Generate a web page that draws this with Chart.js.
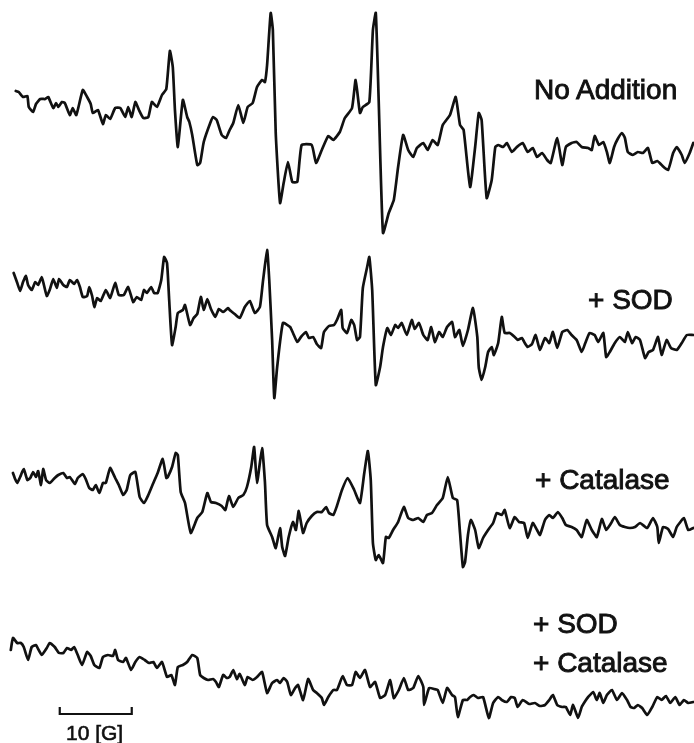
<!DOCTYPE html>
<html>
<head>
<meta charset="utf-8">
<script src="https://cdn.jsdelivr.net/npm/chart.js@4/dist/chart.umd.min.js"></script>
<style>
  body { margin: 0; background: #fff; }
  #wrap { position: relative; width: 694px; height: 743px; }
  #epr { position: absolute; left: 0; top: 0; }
  .lbl {
    position: absolute;
    font-family: "Liberation Sans", Arial, sans-serif;
    font-size: 28px;
    line-height: 28px;
    color: #111;
    white-space: nowrap;
    -webkit-text-stroke: 0.9px #111;
  }
  .scale { font-size: 21px; line-height: 21px; -webkit-text-stroke: 0.6px #111; }
</style>
</head>
<body>
<div id="wrap">
  <canvas id="epr" width="694" height="743"></canvas>
</div>
<script>
// trace names, top to bottom
var traceNames = ["No Addition", "+ SOD", "+ Catalase", "+ SOD\n+ Catalase"];

// magnetic field (G) and signal (a.u.)
var noAddField = [2.2,2.6,3.2,3.8,4.0,4.6,5.0,5.6,6.3,6.7,7.4,7.8,8.1,8.6,9.0,9.7,10.1,10.6,11.5,12.1,12.6,12.9,13.6,14.3,14.7,15.3,16.0,16.7,17.4,17.8,18.3,18.8,19.3,19.9,20.6,21.1,21.8,22.5,23.1,23.6,24.0,24.3,24.7,25.4,26.0,26.3,26.7,27.4,27.8,28.3,29.2,29.6,30.1,30.8,31.4,31.9,32.4,33.1,33.8,34.4,35.1,35.7,36.4,36.8,37.1,37.6,37.9,38.3,38.9,39.4,40.0,40.6,41.3,41.9,43.3,43.9,44.7,45.6,46.3,47.2,47.9,48.9,49.4,50.0,50.4,51.3,51.8,52.2,52.6,53.2,54.0,54.7,55.3,56.0,56.7,57.4,57.9,58.8,59.4,60.1,60.8,61.5,62.5,63.3,63.9,64.4,65.3,66.0,66.5,66.9,67.6,68.3,68.8,69.2,69.9,70.4,71.1,71.8,72.6,73.3,74.0,74.6,75.3,76.0,76.5,77.4,78.1,78.6,79.4,80.1,80.8,81.7,82.2,82.6,83.2,83.8,84.3,84.7,85.3,85.8,86.4,86.8,87.2,87.9,88.6,89.3,90.0,90.6,91.3,91.9,92.8,93.5,94.0,94.7,95.1,95.8,96.3];
var noAddSignal = [19,18,13,14,3,-2,6,11,11,13,2,7,3,8,7,-5,2,-5,20,13,6,-3,0,-14,-5,-9,2,2,-7,3,-7,8,0,-8,-7,8,3,15,21,59,43,0,-37,10,-7,-12,-25,-55,-53,-32,-13,-7,-10,-25,-28,-20,-13,5,-13,3,7,23,30,28,45,97,80,-23,-93,-73,-52,-72,-72,-35,-35,-53,-40,-26,-30,-22,-8,2,30,-3,3,8,80,97,10,-123,-103,-90,-57,-25,-40,-47,-38,-33,-40,-30,-35,-15,-5,13,-15,-20,-77,-37,-3,-10,-88,-70,-37,-35,-37,-33,-42,-37,-33,-42,-38,-47,-43,-50,-53,-28,-55,-37,-33,-32,-37,-38,-40,-26,-35,-32,-42,-53,-37,-29,-23,-28,-42,-45,-42,-43,-38,-53,-51,-55,-60,-43,-37,-45,-53,-43,-33];

var sodField = [1.9,2.4,2.8,3.2,3.6,3.9,4.4,4.9,5.3,5.8,6.1,6.5,6.9,7.4,7.9,8.2,8.8,9.3,9.7,10.3,10.7,11.1,11.5,12.1,12.4,12.8,13.1,13.5,14.0,14.7,15.3,16.0,16.5,17.2,17.8,18.5,19.0,19.6,20.0,20.4,21.0,21.4,21.9,22.4,22.8,23.2,23.5,23.9,24.4,24.7,25.4,25.7,26.4,26.9,27.4,27.9,28.3,28.8,29.3,29.9,30.4,31.0,31.7,31.9,32.6,33.3,34.0,34.7,35.4,36.1,36.5,37.1,37.4,37.8,38.1,38.5,39.3,40.3,40.7,41.3,41.8,42.5,42.9,43.5,44.0,44.6,45.0,45.7,46.4,46.8,47.4,47.6,48.2,48.8,49.2,49.6,50.0,50.4,51.0,51.3,51.7,52.2,52.8,53.2,53.8,54.3,54.9,55.3,55.8,56.5,57.2,57.6,58.2,58.8,59.4,59.9,60.4,61.0,61.5,62.1,62.8,63.2,63.8,64.3,65.0,65.7,66.3,66.5,66.9,67.4,67.8,68.3,68.6,69.2,69.7,70.1,70.8,71.5,71.9,72.5,72.9,73.3,73.9,74.4,75.0,75.7,76.3,76.8,77.4,78.1,78.8,79.4,80.1,80.8,81.3,81.9,82.6,83.1,83.8,84.2,84.7,85.4,86.1,86.8,87.2,87.8,88.3,88.9,89.6,90.1,90.7,91.4,91.9,92.6,93.2,94.0,94.7,95.4,96.3];
var sodSignal = [17,7,-1,8,14,5,0,8,5,13,5,-6,0,11,2,11,5,3,10,6,10,3,-7,-6,3,-6,-17,-8,-11,0,-8,7,-5,-5,3,-12,-7,-10,0,-3,3,-3,-3,10,33,27,-10,-55,-37,-23,-20,-15,-35,-28,-24,-7,-20,-9,-19,-27,-19,-22,-18,-20,-24,-28,-17,-11,-23,-17,7,40,10,-50,-108,-77,-33,-37,-43,-52,-47,-42,-48,-47,-54,-58,-42,-36,-35,-30,-20,-38,-43,-30,-35,-50,-47,2,23,33,0,-95,-77,-57,-38,-45,-35,-38,-33,-45,-30,-39,-33,-45,-50,-37,-52,-42,-47,-37,-32,-47,-40,-56,-40,-18,-47,-77,-90,-77,-62,-57,-65,-53,-27,-43,-43,-47,-50,-48,-53,-57,-54,-45,-60,-48,-53,-42,-58,-42,-40,-45,-50,-62,-53,-43,-45,-52,-43,-67,-62,-53,-47,-52,-42,-53,-47,-50,-68,-62,-60,-47,-65,-50,-58,-60,-53,-45,-45];

var catField = [1.8,2.1,2.4,2.8,3.3,3.8,4.2,4.6,5.0,5.3,5.7,6.0,6.4,6.9,7.6,8.1,8.8,9.3,9.7,10.4,10.8,11.5,11.9,12.4,12.9,13.3,13.8,14.3,14.7,15.3,16.0,16.5,17.1,17.6,18.1,18.8,19.4,20.0,20.6,21.3,21.9,22.6,23.1,23.3,23.9,24.4,24.7,25.1,25.7,26.5,27.4,28.1,28.8,29.3,30.0,30.8,31.3,31.8,32.4,33.1,33.8,34.3,34.9,35.3,35.7,36.4,36.8,37.1,37.8,38.3,38.9,39.2,39.6,40.1,40.7,41.1,41.5,42.1,42.6,43.3,44.0,44.7,45.3,45.7,46.3,46.8,47.5,48.3,49.2,50.0,50.6,51.1,51.5,51.8,52.2,52.6,53.2,53.6,54.0,54.6,55.3,56.1,56.7,57.4,58.1,58.8,59.3,60.0,60.7,61.5,62.2,62.9,63.5,63.9,64.3,64.6,65.0,65.4,66.0,66.5,67.1,67.8,68.5,69.0,69.7,70.1,70.8,71.5,72.1,72.8,73.3,74.0,74.6,75.0,75.7,76.3,76.8,77.5,78.1,78.6,79.4,80.1,80.8,81.5,82.2,82.9,83.6,84.2,84.9,85.4,86.1,86.8,87.5,88.2,88.9,89.9,90.7,91.3,91.5,92.1,92.8,93.5,94.0,94.4,95.0,95.6,96.3];
var catSignal = [7,1,-3,3,11,0,2,8,3,9,-5,11,0,-3,2,5,7,2,3,-4,2,6,1,-8,-10,-5,-13,-3,-3,12,2,-5,-15,-10,5,8,-17,-23,-15,-3,7,21,2,3,13,27,25,-12,-23,-53,-38,-32,-13,-22,-23,-26,-30,-16,-27,-18,-15,-7,13,33,-3,32,-2,-45,-57,-68,-48,-67,-76,-57,-42,-50,-31,-53,-43,-36,-32,-32,-27,-33,-35,-26,-10,2,-10,-23,7,29,0,-63,-80,-75,-83,-57,-58,-50,-42,-27,-38,-40,-38,-42,-35,-33,-25,-18,3,-18,-20,-53,-87,-82,-55,-40,-50,-68,-58,-50,-43,-33,-35,-30,-48,-37,-42,-43,-58,-43,-50,-55,-40,-35,-38,-32,-38,-45,-47,-50,-57,-40,-50,-57,-39,-50,-43,-37,-45,-47,-48,-47,-43,-48,-38,-47,-63,-47,-49,-57,-47,-43,-38,-50,-48];

var bothField = [1.5,1.8,2.4,2.9,3.3,3.9,4.4,5.0,5.3,5.8,6.5,6.9,7.6,8.2,8.8,9.3,9.9,10.3,10.8,11.4,12.1,12.6,13.1,13.8,14.3,15.0,15.7,16.0,16.4,17.1,17.5,18.2,18.8,19.4,20.1,20.7,21.3,21.8,22.5,23.2,23.8,24.3,24.7,25.4,26.0,26.7,27.4,27.8,28.3,28.9,29.6,30.0,30.4,31.0,31.5,31.9,32.4,32.9,33.3,34.0,34.4,35.1,35.7,36.4,37.1,37.8,38.5,38.9,39.4,39.9,40.4,41.0,41.4,42.1,42.8,43.5,44.0,44.7,45.0,45.6,46.3,46.8,47.2,47.6,48.2,48.9,49.4,50.0,50.7,51.4,52.1,52.8,53.5,54.2,54.7,55.4,56.1,56.7,57.4,58.1,58.8,58.9,59.6,60.3,60.8,61.5,62.1,62.8,63.2,63.6,64.3,64.9,65.3,65.8,66.4,67.1,67.9,68.5,69.2,69.7,70.4,71.0,71.5,71.9,72.6,73.5,74.3,75.0,75.7,76.3,76.8,77.4,78.1,78.6,79.2,79.6,80.3,80.8,81.3,81.7,82.4,82.9,83.3,83.8,84.3,85.0,85.7,86.4,87.1,87.6,88.1,88.6,89.2,89.9,90.6,91.3,91.9,92.5,93.1,93.8,94.4,95.0,95.6,96.3];
var bothSignal = [10,22,17,17,13,0,13,15,11,5,12,17,13,7,7,12,10,13,5,-5,8,4,-5,-8,3,5,4,10,0,-2,2,-10,-2,3,0,-3,-2,-8,-2,-17,-15,-25,-7,-5,-2,5,2,-15,-18,-20,-19,-22,-27,-15,-18,-17,-10,-19,-14,-25,-17,-20,-17,-12,-33,-23,-20,-23,-18,-22,-35,-28,-25,-40,-19,-30,-33,-38,-45,-37,-30,-30,-23,-16,-25,-25,-12,-18,-10,-27,-22,-38,-35,-20,-38,-30,-18,-30,-28,-16,-27,-45,-28,-29,-30,-43,-28,-35,-37,-57,-40,-40,-37,-35,-38,-37,-58,-43,-37,-40,-42,-37,-38,-47,-40,-44,-43,-46,-45,-40,-35,-45,-47,-47,-55,-45,-58,-47,-41,-37,-32,-40,-33,-43,-35,-30,-40,-33,-40,-47,-48,-45,-48,-55,-47,-37,-40,-36,-43,-37,-45,-40,-43,-42];

var scaleBarStart = 8.3; // G
var scaleBarLength = 10; // G

function pts(field, signal) {
  return field.map(function (f, i) { return {x: f, y: signal[i]}; });
}

function trace(field, signal, axis) {
  return {
    data: pts(field, signal),
    yAxisID: axis,
    borderColor: '#111',
    borderWidth: 2.7,
    borderJoinStyle: 'round',
    borderCapStyle: 'round',
    pointRadius: 0,
    tension: 0.15,
    fill: false
  };
}

function yAxis(min, max, weight) {
  return {type: 'linear', position: 'right', stack: 'epr', stackWeight: weight,
          min: min, max: max, display: false};
}

// scale bar bracket, measured on the field axis
var scaleBar = {
  id: 'scaleBar',
  afterDraw: function (chart) {
    var x = chart.scales.x;
    var ctx = chart.ctx;
    var x0 = x.getPixelForValue(scaleBarStart);
    var x1 = x.getPixelForValue(scaleBarStart + scaleBarLength);
    ctx.save();
    ctx.strokeStyle = '#111';
    ctx.lineWidth = 2.2;
    ctx.beginPath();
    ctx.moveTo(x0, 707);
    ctx.lineTo(x0, 714);
    ctx.lineTo(x1, 714);
    ctx.lineTo(x1, 707);
    ctx.stroke();
    ctx.restore();
  }
};

new Chart(document.getElementById('epr'), {
  type: 'line',
  data: {
    datasets: [
      trace(noAddField, noAddSignal, 'y1'),
      trace(sodField, sodSignal, 'y2'),
      trace(catField, catSignal, 'y3'),
      trace(bothField, bothSignal, 'y4')
    ]
  },
  options: {
    responsive: false,
    animation: false,
    events: [],
    layout: {padding: 0},
    plugins: {legend: {display: false}, tooltip: {enabled: false}},
    scales: {
      x: {type: 'linear', min: 0, max: 96.4, display: false},
      y1: yAxis(-130, 110, 240),
      y2: yAxis(-130, 50, 180),
      y3: yAxis(-110, 60, 170),
      y4: yAxis(-83, 70, 153)
    }
  },
  plugins: [scaleBar]
});

// trace labels as text
var wrap = document.getElementById('wrap');
var labelSpots = [[534, 76], [588, 286], [535, 466], [533, 609]];
traceNames.forEach(function (name, i) {
  var d = document.createElement('div');
  d.className = 'lbl';
  d.style.left = labelSpots[i][0] + 'px';
  d.style.top = labelSpots[i][1] + 'px';
  if (i === 3) {
    d.style.lineHeight = '39px';
    d.style.top = (labelSpots[i][1] - 5) + 'px';
    d.innerHTML = name.split('\n').map(function (s) { return '<div>' + s + '</div>'; }).join('');
  } else {
    d.textContent = name;
  }
  wrap.appendChild(d);
});
var sb = document.createElement('div');
sb.className = 'lbl scale';
sb.style.left = '66px';
sb.style.top = '722px';
sb.textContent = '10 [G]';
wrap.appendChild(sb);
</script>
</body>
</html>
